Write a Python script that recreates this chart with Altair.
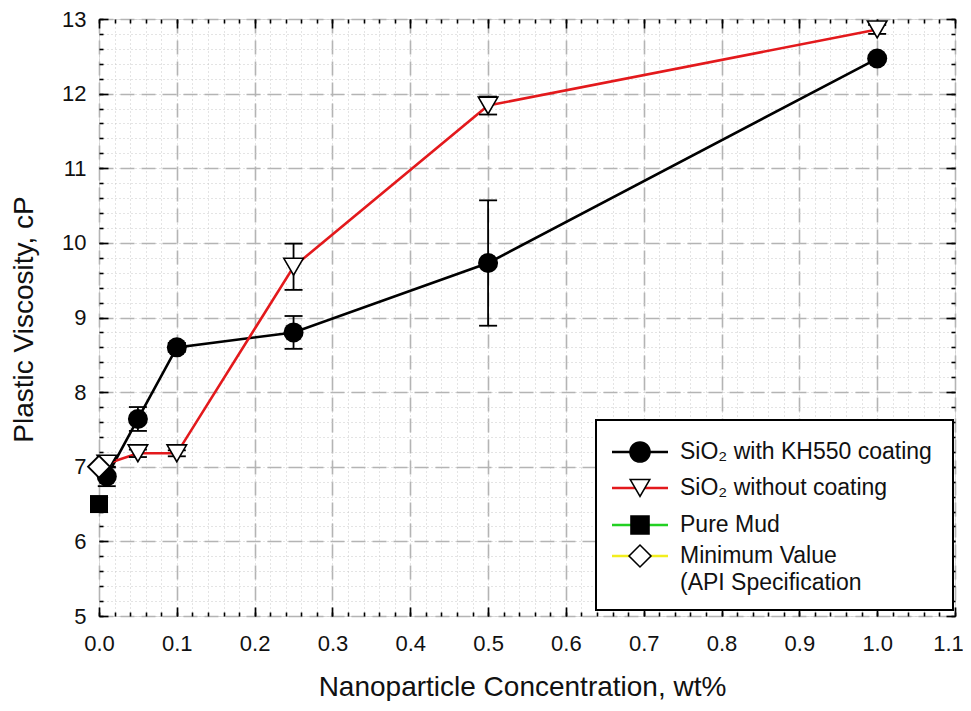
import altair as alt
import pandas as pd

# ---------------- data ----------------
conc_coated = [0.01, 0.05, 0.10, 0.25, 0.50, 1.00]
pv_coated = [6.87, 7.64, 8.60, 8.80, 9.73, 12.47]
err_coated = [0.13, 0.16, 0.06, 0.22, 0.84, 0.03]

conc_uncoated = [0.01, 0.05, 0.10, 0.25, 0.50, 1.00]
pv_uncoated = [7.04, 7.18, 7.18, 9.68, 11.84, 12.86]
err_uncoated = [0.05, 0.05, 0.04, 0.31, 0.12, 0.06]

pure_mud_conc = [0.0]
pure_mud_pv = [6.5]

api_min_conc = [0.0]
api_min_pv = [7.0]

x_domain = [0.0, 1.1]
y_domain = [5, 13]
x_major = [round(i * 0.1, 2) for i in range(12)]
x_minor = [round(i * 0.02, 2) for i in range(56)]
y_major = list(range(5, 14))
y_minor = [round(5 + i * 0.2, 1) for i in range(41)]

legend_labels = [
    "SiO₂ with KH550 coating",
    "SiO₂ without coating",
    "Pure Mud",
    "Minimum Value\n(API Specification",
]
legend_line_colors = ["#000000", "#e3191c", "#22d022", "#f2ee1e"]
legend_shapes = ["circle", "triangle-down", "square", "diamond"]
legend_fills = ["#000000", "#ffffff", "#000000", "#ffffff"]
legend_sizes = [400, 380, 324, 480]

# ---------------- frames ----------------
coated = pd.DataFrame({"x": conc_coated, "y": pv_coated})
coated["lo"] = [v - e for v, e in zip(pv_coated, err_coated)]
coated["hi"] = [v + e for v, e in zip(pv_coated, err_coated)]
uncoated = pd.DataFrame({"x": conc_uncoated, "y": pv_uncoated})
uncoated["lo"] = [v - e for v, e in zip(pv_uncoated, err_uncoated)]
uncoated["hi"] = [v + e for v, e in zip(pv_uncoated, err_uncoated)]
errs = pd.concat([coated, uncoated], ignore_index=True)
mud = pd.DataFrame({"x": pure_mud_conc, "y": pure_mud_pv})
api = pd.DataFrame({"x": api_min_conc, "y": api_min_pv})

W, H = 856, 597
FONT = "Liberation Sans"
xs = alt.Scale(domain=x_domain, nice=False, zero=False)
ys = alt.Scale(domain=y_domain, nice=False, zero=False)


def X(field="x", axis=None):
    return alt.X(f"{field}:Q", scale=xs, axis=axis)


def Y(field="y", axis=None):
    return alt.Y(f"{field}:Q", scale=ys, axis=axis)


def axis_layer(xaxis, yaxis):
    return alt.Chart(coated).mark_point(opacity=0).encode(x=X(axis=xaxis), y=Y(axis=yaxis))


# minor dotted grid
minor_grid = axis_layer(
    alt.Axis(orient="bottom", values=x_minor, grid=True, gridColor="#c9c9c9", gridDash=[1, 3],
             gridWidth=1, ticks=False, labels=False, domain=False, title=None),
    alt.Axis(orient="left", values=y_minor, grid=True, gridColor="#c9c9c9", gridDash=[1, 3],
             gridWidth=1, ticks=False, labels=False, domain=False, title=None),
)

# major dashed grid + labels + titles
main_axes = axis_layer(
    alt.Axis(orient="bottom", values=x_major, format=".1f", grid=True, gridColor="#b4b4b4",
             gridDash=[14, 7], gridWidth=1.6, ticks=False, domain=False, labelFlush=False,
             labelOverlap=False, labelFontSize=22, labelColor="#111111", labelPadding=17,
             labelOffset={"condition": {"test": "datum.value > 1.05", "value": -7}, "value": 0},
             title="Nanoparticle Concentration, wt%", titleFontSize=28, titleFontWeight="normal",
             titleColor="#111111", titleX=423, titleY=79, titleBaseline="alphabetic",
             titleAlign="center"),
    alt.Axis(orient="left", values=y_major, format="d", grid=True, gridColor="#b4b4b4",
             gridDash=[14, 7], gridWidth=1.6, ticks=False, domain=False, labelOverlap=False,
             labelFontSize=22, labelColor="#111111", labelPadding=13,
             title="Plastic Viscosity, cP", titleFontSize=28, titleFontWeight="normal",
             titleColor="#111111", titleX=-67, titleY=300, titleAngle=270,
             titleBaseline="alphabetic", titleAlign="center"),
)


def tick_axes(xvals, yvals, size, inner_side):
    common = dict(labels=False, domain=False, grid=False, title=None, tickColor="black",
                  tickWidth=1.6, tickSize=size)
    if inner_side == "bl":  # ticks on bottom & left edges, pointing inward
        xa = alt.Axis(orient="top", offset=-H, values=xvals, **common)
        ya = alt.Axis(orient="right", offset=-W, values=yvals, **common)
    else:  # ticks on top & right edges, pointing inward
        xa = alt.Axis(orient="bottom", offset=-H, values=xvals, **common)
        ya = alt.Axis(orient="left", offset=-W, values=yvals, **common)
    return axis_layer(xa, ya)


ticks = [
    tick_axes(x_minor, y_minor, 4, "bl"),
    tick_axes(x_major, y_major, 9, "bl"),
    tick_axes(x_minor, y_minor, 4, "tr"),
    tick_axes(x_major, y_major, 9, "tr"),
]

# data marks
line_coated = alt.Chart(coated).mark_line(color="black", strokeWidth=2.6).encode(x=X(), y=Y())
line_uncoated = alt.Chart(uncoated).mark_line(color="#e3191c", strokeWidth=2.6).encode(x=X(), y=Y())
err_rule = alt.Chart(errs).mark_rule(color="black", strokeWidth=1.8).encode(
    x=X(), y=Y("lo"), y2="hi:Q")
err_lo = alt.Chart(errs).mark_tick(orient="horizontal", color="black", size=18, thickness=1.8,
                                   opacity=1).encode(x=X(), y=Y("lo"))
err_hi = alt.Chart(errs).mark_tick(orient="horizontal", color="black", size=18, thickness=1.8,
                                   opacity=1).encode(x=X(), y=Y("hi"))
pts_coated = alt.Chart(coated).mark_point(shape="circle", filled=True, color="black", size=400,
                                          opacity=1).encode(x=X(), y=Y())
pts_uncoated = alt.Chart(uncoated).mark_point(shape="triangle-down", fill="white", stroke="black",
                                              strokeWidth=1.6, size=380, opacity=1,
                                              fillOpacity=1).encode(x=X(), y=Y())
pts_mud = alt.Chart(mud).mark_point(shape="square", filled=True, color="black", size=324,
                                    opacity=1).encode(x=X(), y=Y())
pts_api = alt.Chart(api).mark_point(shape="diamond", fill="white", stroke="black",
                                    strokeWidth=1.8, size=480, opacity=1,
                                    fillOpacity=1).encode(x=X(), y=Y())

# legend (drawn box in the lower right of the plot)
one = pd.DataFrame({"k": [0]})
LX0, LX1, LY0, LY1 = 497, 854, 401, 591
legend_layers = [
    alt.Chart(one).mark_rect(fill="white", stroke="black", strokeWidth=2).encode(
        x=alt.value(LX0), x2=alt.value(LX1), y=alt.value(LY0), y2=alt.value(LY1))
]
row_y = [433, 469, 506, 537]
for i, lab in enumerate(legend_labels):
    yy = row_y[i]
    legend_layers.append(
        alt.Chart(one).mark_rule(color=legend_line_colors[i], strokeWidth=2.6).encode(
            x=alt.value(513), x2=alt.value(569), y=alt.value(yy)))
    legend_layers.append(
        alt.Chart(one).mark_point(shape=legend_shapes[i], fill=legend_fills[i], stroke="black",
                                  strokeWidth=1.6, size=legend_sizes[i], opacity=1,
                                  fillOpacity=1).encode(x=alt.value(541), y=alt.value(yy)))
    legend_layers.append(
        alt.Chart(pd.DataFrame({"label": [lab]})).mark_text(
            align="left", baseline="middle", lineBreak="\n", lineHeight=27, font=FONT,
            fontSize=23, color="#111111").encode(
            x=alt.value(581), y=alt.value(yy), text="label:N"))

chart = alt.layer(
    minor_grid, main_axes, *ticks,
    line_coated, line_uncoated, err_rule, err_lo, err_hi,
    pts_coated, pts_uncoated, pts_mud, pts_api,
    *legend_layers,
).resolve_axis(x="independent", y="independent").properties(
    width=W, height=H,
    autosize=alt.AutoSizeParams(type="none"),
    padding={"left": 91, "top": 11, "right": 8, "bottom": 85},
).configure_view(stroke="black", strokeWidth=2).configure_axis(
    labelFont=FONT, titleFont=FONT
).configure(background="white")

chart.save("out.html", embed_options={"renderer": "svg", "actions": False})
